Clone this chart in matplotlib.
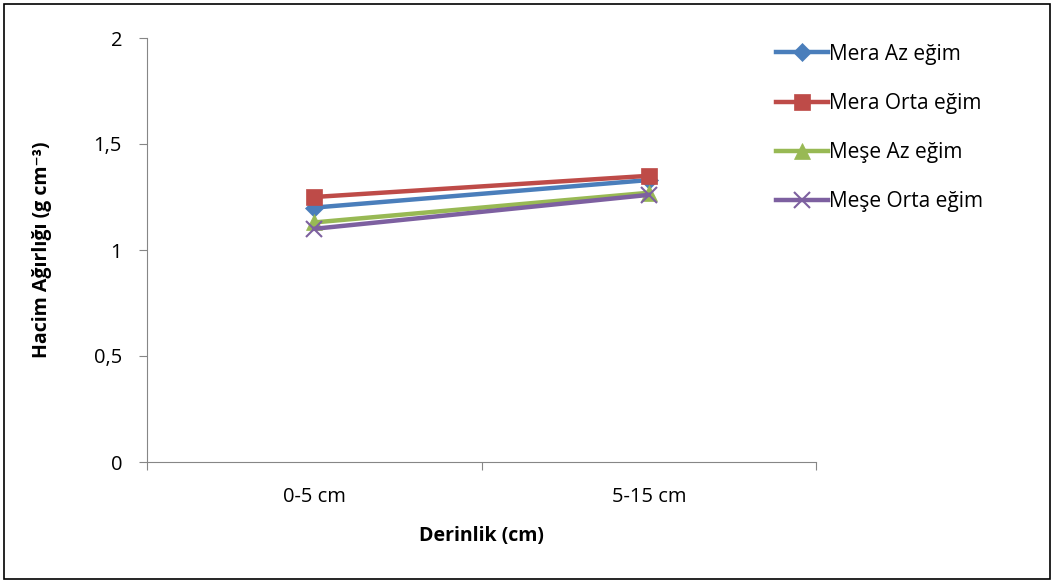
import numpy as np
import matplotlib.pyplot as plt
from matplotlib.patches import Rectangle

plt.rcParams["font.family"] = ["Open Sans", "DejaVu Sans"]

categories = ["0-5 cm", "5-15 cm"]
series_names = ["Mera Az eğim", "Mera Orta eğim", "Meşe Az eğim", "Meşe Orta eğim"]
mera_az = [1.20, 1.33]
mera_orta = [1.25, 1.35]
mese_az = [1.13, 1.27]
mese_orta = [1.10, 1.26]
yticks = [0, 0.5, 1, 1.5, 2]
ytick_labels = ["0", "0,5", "1", "1,5", "2"]

colors = ["#4A7EBB", "#BE4B48", "#98B954", "#7D60A0"]
markers = ["D", "s", "^", "x"]
msizes = [9, 12, 11, 12]

fig = plt.figure(figsize=(10.54, 5.83), dpi=100)
ax = fig.add_axes([147 / 1054, 1 - 462 / 583, (816 - 147) / 1054, (462 - 38) / 583])

x = np.arange(len(categories))
for vals, name, c, m, ms in zip([mera_az, mera_orta, mese_az, mese_orta],
                                 series_names, colors, markers, msizes):
    ax.plot(x, vals, color=c, lw=3.2, marker=m, markersize=ms, label=name,
            markeredgewidth=1.5 if m == "x" else 0.5, markeredgecolor=c)

ax.set_xlim(-0.5, len(categories) - 0.5)
ax.set_ylim(0, 2)
ax.set_yticks(yticks)
ax.set_yticklabels(ytick_labels, fontsize=14.5)
ax.set_xticks(np.arange(len(categories) + 1) - 0.5)
ax.set_xticklabels([])
ax.set_xticks(x, minor=True)
ax.set_xticklabels(categories, minor=True, fontsize=14.5)
ax.tick_params(axis="x", which="minor", length=0, pad=18)
ax.tick_params(axis="both", which="major", length=6, color="#868686", direction="out")
ax.tick_params(axis="y", pad=12)

for s in ["top", "right"]:
    ax.spines[s].set_visible(False)
for s in ["left", "bottom"]:
    ax.spines[s].set_color("#868686")

ax.set_xlabel("Derinlik (cm)", fontsize=14, fontweight="bold", labelpad=14)
ax.set_ylabel("Hacim Ağırlığı (g cm⁻³)", fontsize=14, fontweight="bold", labelpad=30)

fig.legend(loc="upper left", bbox_to_anchor=(757 / 1054, 1 - 25 / 583), frameon=False,
           fontsize=15, handlelength=2.5, labelspacing=1.35, handletextpad=0.05)

fig.patches.append(Rectangle((4 / 1054, 4 / 583), 1046 / 1054, 575 / 583,
                             transform=fig.transFigure, fill=False, edgecolor="black", lw=1.2))

fig.savefig("out.png", dpi=100)
